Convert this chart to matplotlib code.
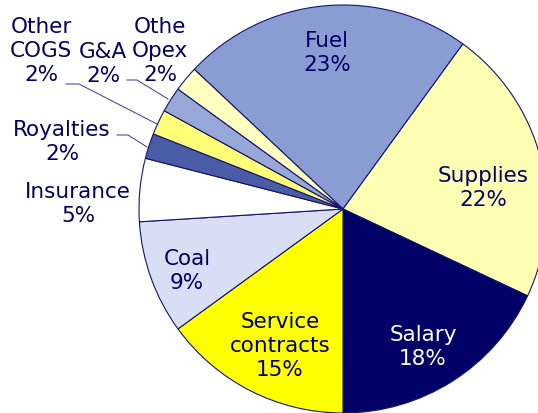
"""
Cost breakdown pie chart
"""

import matplotlib.pyplot as plt

# data (clockwise from the Fuel slice)
labels = ["Fuel", "Supplies", "Salary", "Service\ncontracts", "Coal",
          "Insurance", "Royalties", "Other\nCOGS", "G&A", "Othe\nOpex"]
shares = [23, 22, 18, 15, 9, 5, 2, 2, 2, 2]
colors = ["#8A9DD2", "#FFFFB4", "#000066", "#FFFF00", "#D8DEF4",
          "#FFFFFF", "#4A5CA6", "#FFFF77", "#97A7D8", "#FFFFC0"]

# layout (pixel coords, y measured from top)
W, H = 538, 414
center_px = (343, 210)
radius = 204
label_pos = [(327, 53), (483, 188), (423, 347), (280, 346), (187, 271),
             (78, 204), (62, 142), (41, 51), (103, 64), (160, 51)]
# leader lines for the thin slices: (start, elbow, end)
leaders = {
    6: [(117, 136), (128, 136), (147, 148)],
    7: [(66, 85), (79, 85), (157, 125)],
    8: [(127, 81), (137, 81), (168, 100)],
}

text_color = "#000066"

fig = plt.figure(figsize=(W / 100, H / 100), dpi=100)
ax = fig.add_axes([0, 0, 1, 1])

ax.pie(shares, colors=colors, startangle=136.8, counterclock=False,
       center=(center_px[0], H - center_px[1]), radius=radius,
       wedgeprops=dict(edgecolor="#141470", linewidth=0.8),
       frame=True)
ax.set_xlim(0, W)
ax.set_ylim(0, H)
ax.set_aspect("equal")
ax.axis("off")

for i, (lab, s) in enumerate(zip(labels, shares)):
    x, y = label_pos[i]
    c = "white" if colors[i] == "#000066" else text_color
    ax.text(x, H - y, "%s\n%d%%" % (lab, s), ha="center", va="center",
            fontsize=15.5, color=c, linespacing=1.22, family="DejaVu Sans")

for i, pts in leaders.items():
    xs = [p[0] for p in pts]
    ys = [H - p[1] for p in pts]
    ax.plot(xs, ys, color="#3A3A90", linewidth=0.7)

fig.savefig("out.png", dpi=100)
